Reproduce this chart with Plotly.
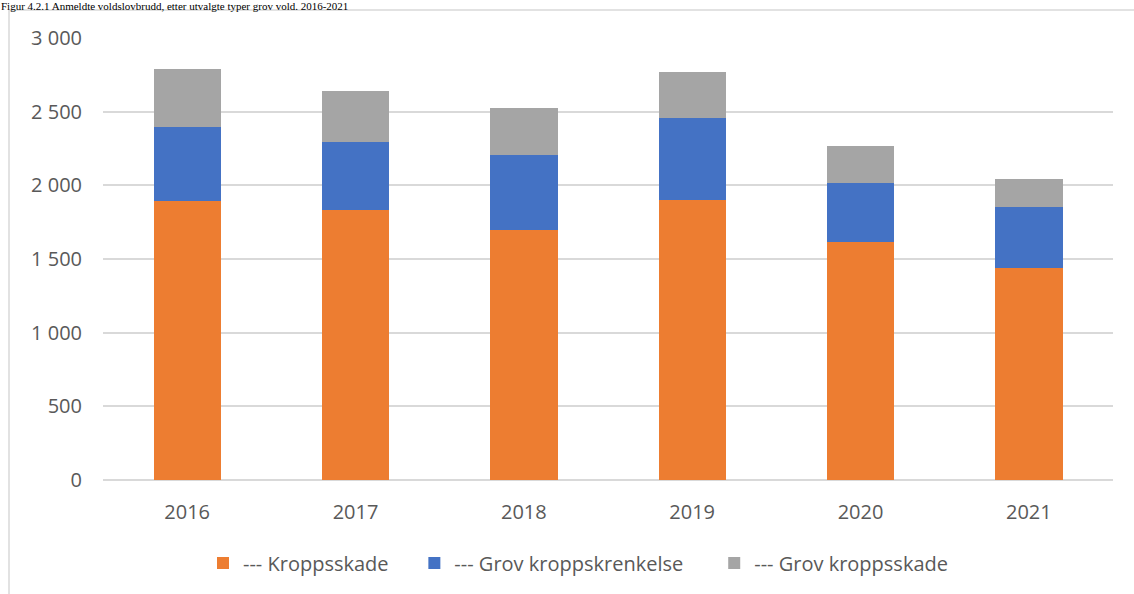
import plotly.graph_objects as go

years = ["2016", "2017", "2018", "2019", "2020", "2021"]
kroppsskade = [1894, 1831, 1698, 1901, 1617, 1442]
grov_kroppskrenkelse = [505, 464, 507, 554, 401, 412]
grov_kroppsskade = [391, 347, 322, 311, 249, 187]

series_names = ["--- Kroppsskade", "--- Grov kroppskrenkelse", "--- Grov kroppsskade"]
series_colors = ["#ED7D31", "#4472C4", "#A5A5A5"]
title_text = "Figur 4.2.1 Anmeldte voldslovbrudd, etter utvalgte typer grov vold. 2016-2021"

W, H = 1134, 594
L, R = 103, 1113
T, B = 38, 481.7

def px_x(p):
    return (p - L) / (R - L)

def px_y(p):
    return (B - p) / (B - T)

NBSP = "\u00a0"
legend_pad = [NBSP * 4, NBSP * 5, ""]

fig = go.Figure()
for name, vals, col, pad in zip(series_names, [kroppsskade, grov_kroppskrenkelse, grov_kroppsskade],
                                series_colors, legend_pad):
    fig.add_trace(go.Bar(x=years, y=vals, name=name + pad, marker=dict(color=col, line=dict(width=0))))

font_main = "Open Sans, Noto Sans, sans-serif"

fig.update_layout(
    width=W, height=H,
    barmode="stack",
    bargap=0.6,
    separators=", ",
    paper_bgcolor="white",
    plot_bgcolor="white",
    margin=dict(l=L, r=W - R, t=T, b=H - B, pad=0),
    font=dict(family=font_main, size=20, color="#595959"),
    xaxis=dict(showgrid=False, showline=False, ticks="", ticklabelstandoff=18,
               tickfont=dict(size=20, color="#595959")),
    yaxis=dict(range=[0, 3000], dtick=500, tickformat=",", showgrid=True,
               gridcolor="#d9d9d9", gridwidth=1.5, zeroline=True, zerolinecolor="#d9d9d9",
               zerolinewidth=1.5, showline=False, ticks="", ticklabelstandoff=20,
               tickfont=dict(size=20, color="#595959")),
    legend=dict(orientation="h", x=px_x(203), xanchor="left", y=px_y(565), yanchor="middle",
                traceorder="normal", font=dict(size=20, color="#595959"), bgcolor="rgba(0,0,0,0)"),
    showlegend=True,
)

fig.add_shape(type="rect", xref="paper", yref="paper",
              x0=px_x(9), x1=px_x(1150), y0=px_y(610), y1=px_y(10),
              line=dict(color="#d9d9d9", width=1.5), fillcolor="rgba(0,0,0,0)", layer="below")

fig.add_annotation(text=title_text, xref="paper", yref="paper", x=px_x(0), y=px_y(-1),
                   xanchor="left", yanchor="top", showarrow=False, borderpad=0,
                   font=dict(family="Liberation Serif, Times New Roman, serif", size=11, color="#000000"))

fig.write_html("out.html", config={"displayModeBar": False},
               post_script="document.body.style.margin='0';")
